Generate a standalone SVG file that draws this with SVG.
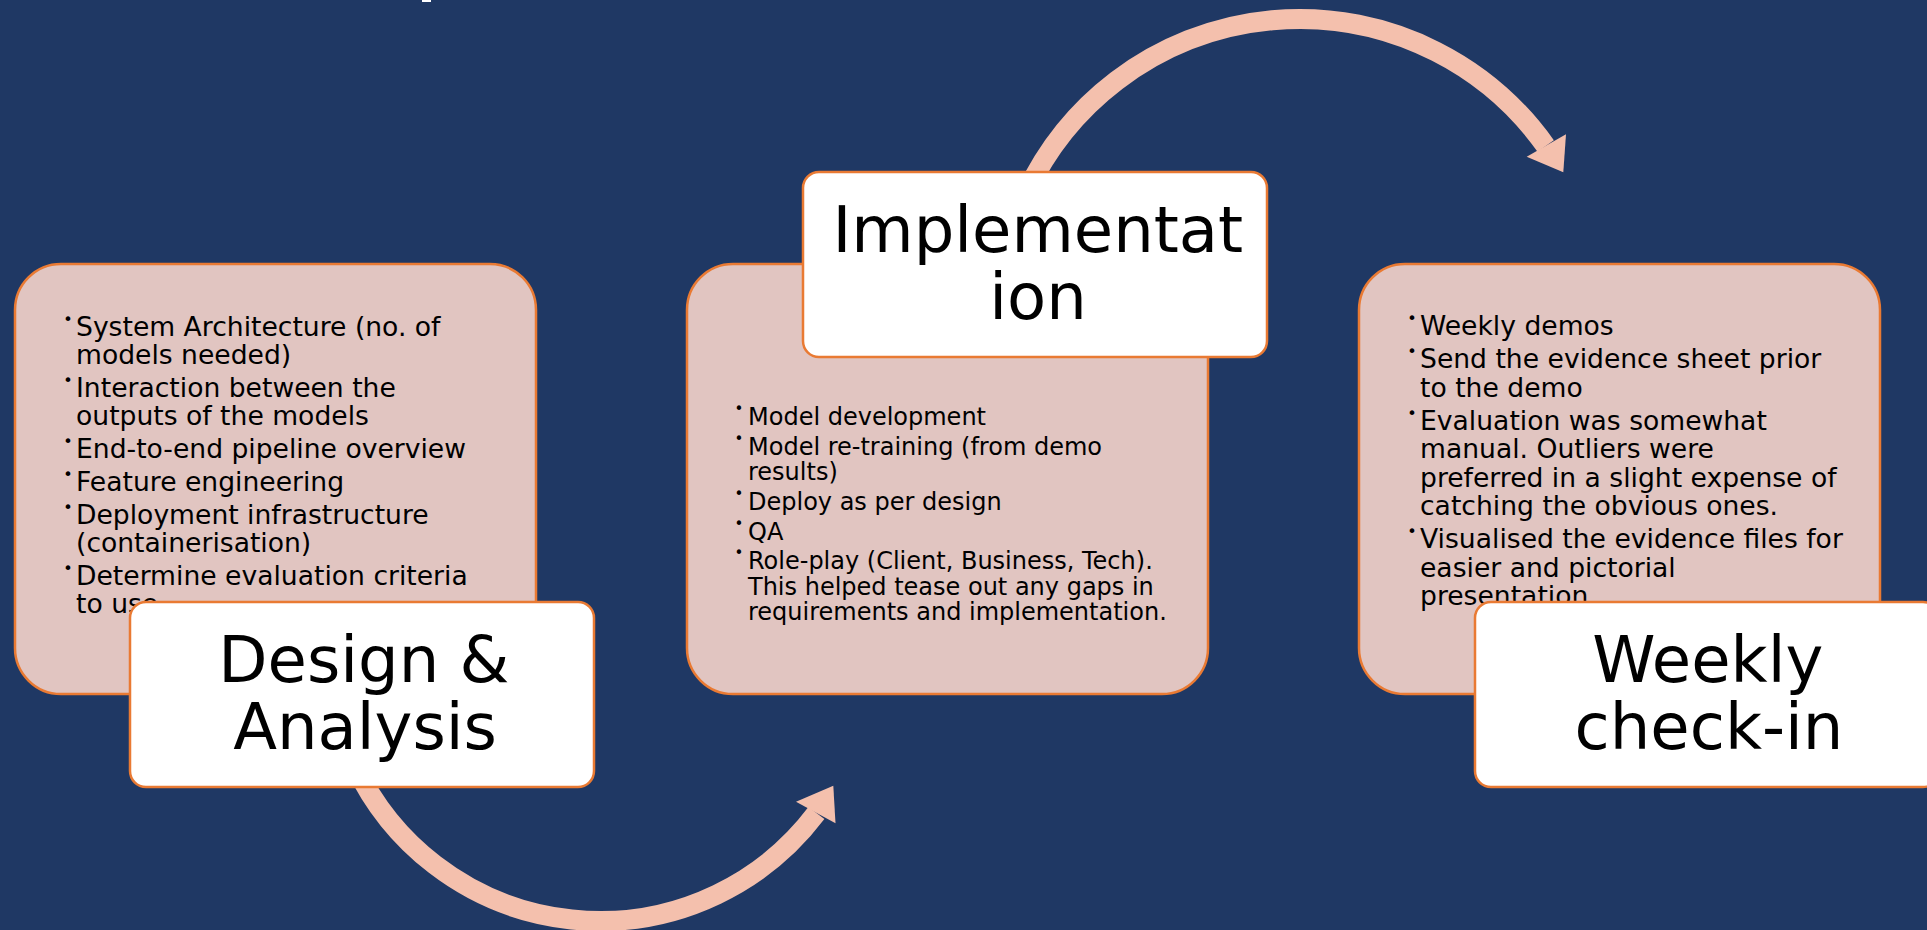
<svg xmlns="http://www.w3.org/2000/svg" width="1927" height="930" viewBox="0 0 1927 930">
<style>
.bg{fill:#1F3864}
.card{fill:#E1C5C1;stroke:#E97A33;stroke-width:2.5}
.lab{fill:#FFFFFF;stroke:#E97A33;stroke-width:2.5}
.arc{fill:none;stroke:#F4C0AD;stroke-width:20}
.head{fill:#F4C0AD}
.body{font-family:"DejaVu Sans",sans-serif;font-size:26.6px;fill:#000}
.body2{font-family:"DejaVu Sans",sans-serif;font-size:24px;fill:#000}
.bul{font-family:"DejaVu Sans",sans-serif;font-size:16px;fill:#000;text-anchor:middle}
.bul2{font-family:"DejaVu Sans",sans-serif;font-size:15px;fill:#000;text-anchor:middle}
.title{font-family:"DejaVu Sans",sans-serif;font-size:64px;fill:#000;text-anchor:middle}
</style>
<rect class="bg" x="0" y="0" width="1927" height="930"/>
<rect x="422" y="0" width="9" height="2" fill="#FFFFFF"/>

<g id="connectors">
  <path class="arc" d="M 354.4 764.5 A 271 271 0 0 0 816.4 813.1"/>
  <polygon class="head" points="796,801.7 835.5,823.3 833.3,785.7"/>
  <path class="arc" d="M 1025.8 193.4 A 302 302 0 0 1 1545.7 146"/>
  <polygon class="head" points="1526.7,156.7 1566,134.3 1563.3,172.3"/>
</g>

<g id="node-design">
  <rect class="card" x="15" y="264" width="521" height="430" rx="46" ry="46"/>
  <text class="bul" x="68" y="325">•</text>
  <text class="bul" x="68" y="386">•</text>
  <text class="bul" x="68" y="447">•</text>
  <text class="bul" x="68" y="480">•</text>
  <text class="bul" x="68" y="513">•</text>
  <text class="bul" x="68" y="574">•</text>
  <text class="body">
    <tspan x="76" y="336">System Architecture (no. of</tspan>
    <tspan x="76" y="364">models needed)</tspan>
    <tspan x="76" y="397">Interaction between the</tspan>
    <tspan x="76" y="425">outputs of the models</tspan>
    <tspan x="76" y="458">End-to-end pipeline overview</tspan>
    <tspan x="76" y="491">Feature engineering</tspan>
    <tspan x="76" y="524">Deployment infrastructure</tspan>
    <tspan x="76" y="552">(containerisation)</tspan>
    <tspan x="76" y="585">Determine evaluation criteria</tspan>
    <tspan x="76" y="613">to use</tspan>
  </text>
  <rect class="lab" x="130" y="602" width="464" height="185" rx="16" ry="16"/>
  <text class="title">
    <tspan x="374" y="682">Design &amp;</tspan>
    <tspan x="365" y="749">Analysis</tspan>
  </text>
</g>

<g id="node-implementation">
  <rect class="card" x="687" y="264" width="521" height="430" rx="46" ry="46"/>
  <text class="bul2" x="739" y="414.4">•</text>
  <text class="bul2" x="739" y="444">•</text>
  <text class="bul2" x="739" y="499">•</text>
  <text class="bul2" x="739" y="528.7">•</text>
  <text class="bul2" x="739" y="558.4">•</text>
  <text class="body2">
    <tspan x="748" y="425.4">Model development</tspan>
    <tspan x="748" y="455">Model re-training (from demo</tspan>
    <tspan x="748" y="480.4">results)</tspan>
    <tspan x="748" y="510">Deploy as per design</tspan>
    <tspan x="748" y="539.7">QA</tspan>
    <tspan x="748" y="569.4">Role-play (Client, Business, Tech).</tspan>
    <tspan x="748" y="594.8">This helped tease out any gaps in</tspan>
    <tspan x="748" y="620.2">requirements and implementation.</tspan>
  </text>
  <rect class="lab" x="803" y="172" width="464" height="185" rx="16" ry="16"/>
  <text class="title">
    <tspan x="1048" y="252">Implementat</tspan>
    <tspan x="1038" y="319">ion</tspan>
  </text>
</g>

<g id="node-checkin">
  <rect class="card" x="1359" y="264" width="521" height="430" rx="46" ry="46"/>
  <text class="bul" x="1412" y="324.3">•</text>
  <text class="bul" x="1412" y="357">•</text>
  <text class="bul" x="1412" y="418.5">•</text>
  <text class="bul" x="1412" y="537">•</text>
  <text class="body">
    <tspan x="1420" y="335.3">Weekly demos</tspan>
    <tspan x="1420" y="368">Send the evidence sheet prior</tspan>
    <tspan x="1420" y="396.5">to the demo</tspan>
    <tspan x="1420" y="429.5">Evaluation was somewhat</tspan>
    <tspan x="1420" y="458">manual. Outliers were</tspan>
    <tspan x="1420" y="486.5">preferred in a slight expense of</tspan>
    <tspan x="1420" y="515">catching the obvious ones.</tspan>
    <tspan x="1420" y="548">Visualised the evidence files for</tspan>
    <tspan x="1420" y="576.5">easier and pictorial</tspan>
    <tspan x="1420" y="605">presentation</tspan>
  </text>
  <rect class="lab" x="1475" y="602" width="464" height="185" rx="16" ry="16"/>
  <text class="title">
    <tspan x="1718" y="682">Weekly</tspan>
    <tspan x="1709" y="749">check-in</tspan>
  </text>
</g>
</svg>
